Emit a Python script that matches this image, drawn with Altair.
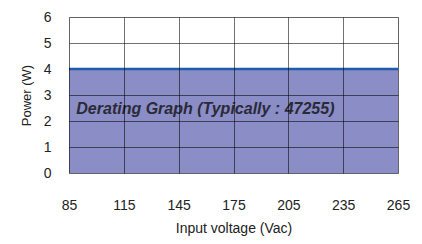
import altair as alt
import pandas as pd

voltage = [85, 265]
power = [4, 4]
x_ticks = [85, 115, 145, 175, 205, 235, 265]
y_ticks = [0, 1, 2, 3, 4, 5, 6]
note = "Derating Graph (Typically : 47255)"

df = pd.DataFrame({"v": voltage, "p": power})
note_df = pd.DataFrame({"v": [89], "p": [2.45], "t": [note]})

xs = alt.Scale(domain=[85, 265], nice=False, zero=False)
ys = alt.Scale(domain=[0, 6], nice=False)

common = dict(grid=True, gridColor="#000000", gridWidth=1, domain=False,
              ticks=False, labelOverlap=False, labelFlush=False, labelFontSize=14,
              labelColor="#222222", titleFontWeight="normal", titleColor="#222222",
              zindex=1, labelFont="Liberation Sans", titleFont="Liberation Sans")

x_axis = alt.Axis(values=x_ticks, title="Input voltage (Vac)", labelPadding=25,
                  titleFontSize=14, titlePadding=9, gridOpacity=0.55, **common)
y_axis = alt.Axis(values=y_ticks, title="Power (W)", labelPadding=18,
                  titleFontSize=13, titlePadding=10,
                  gridOpacity={"condition": {"test": "datum.value === 4", "value": 0},
                               "value": 0.55},
                  **common)

X = alt.X("v:Q", scale=xs, axis=x_axis)
Y = alt.Y("p:Q", scale=ys, axis=y_axis)

base = alt.Chart(df)
area = base.mark_area(color="#8a8dc6", opacity=1).encode(x=X, y=Y)
line = base.mark_line(color="#1f5cab", strokeWidth=2.5).encode(x=X, y=Y)
text = alt.Chart(note_df).mark_text(align="left", baseline="middle", fontSize=16,
                                    fontWeight="bold", fontStyle="italic",
                                    font="Liberation Sans", color="#2a2a38").encode(
    x=X, y=Y, text="t:N",
)

chart = alt.layer(area, line, text).properties(
    width=329, height=156,
    autosize=alt.AutoSizeParams(type="none"),
    padding={"left": 61, "top": 9, "right": 15, "bottom": 68},
).configure_view(stroke="#1a1a1a", strokeWidth=3).configure(background="white")

chart.save("out.html", embed_options={"renderer": "svg", "actions": False})
